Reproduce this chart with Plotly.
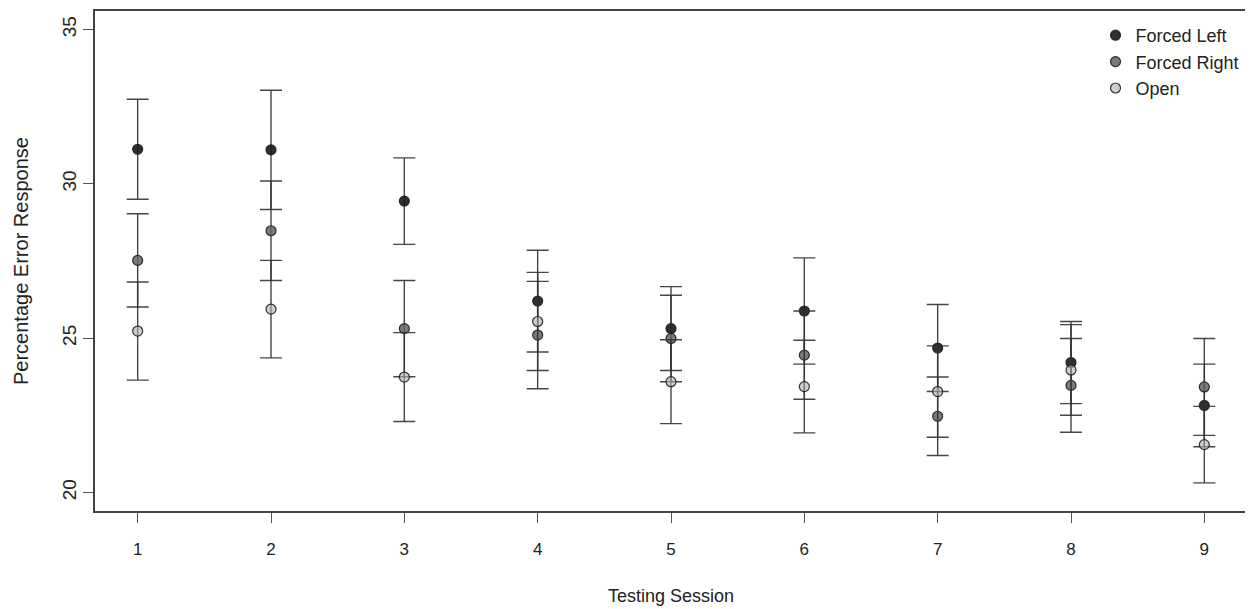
import plotly.graph_objects as go

sessions = [1, 2, 3, 4, 5, 6, 7, 8, 9]
series_names = ["Forced Left", "Forced Right", "Open"]

forced_left_mean = [31.12, 31.10, 29.44, 26.20, 25.31, 25.88, 24.68, 24.21, 22.82]
forced_left_err = [1.62, 1.93, 1.40, 1.65, 1.36, 1.72, 1.41, 1.33, 1.34]

forced_right_mean = [27.52, 28.48, 25.31, 25.10, 24.99, 24.45, 22.47, 23.47, 23.42]
forced_right_err = [1.51, 1.61, 1.56, 1.74, 1.40, 1.43, 1.27, 1.52, 1.57]

open_mean = [25.23, 25.94, 23.74, 25.54, 23.59, 23.43, 23.27, 23.97, 21.55]
open_err = [1.59, 1.58, 1.44, 1.59, 1.36, 1.50, 1.48, 1.47, 1.24]

x_ticks = [1, 2, 3, 4, 5, 6, 7, 8, 9]
y_ticks = [20, 25, 30, 35]

fills = ["rgba(25,25,25,0.9)", "rgba(100,100,100,0.85)", "rgba(175,175,175,0.6)"]
means = [forced_left_mean, forced_right_mean, open_mean]
errs = [forced_left_err, forced_right_err, open_err]

FONT = "Liberation Sans, Arial, sans-serif"

fig = go.Figure()
for name, m, e, c in zip(series_names, means, errs, fills):
    fig.add_trace(go.Scatter(
        x=sessions, y=m, mode="markers", name=name,
        marker=dict(size=10, color=c, line=dict(color="rgba(30,30,30,0.9)", width=1.2)),
        error_y=dict(type="data", array=e, visible=True, color="rgba(50,50,50,0.9)",
                     thickness=1.4, width=11),
    ))

# page body has an 8px margin, so the figure is sized to fit the 1253x609 window
fig.update_layout(
    width=1245, height=601,
    margin=dict(l=87, r=6, t=3, b=98, autoexpand=False),
    plot_bgcolor="white", paper_bgcolor="white",
    font=dict(family=FONT, size=17, color="#222"),
    showlegend=True,
    legend=dict(x=0.8685, y=0.988, xanchor="left", yanchor="top",
                bgcolor="rgba(0,0,0,0)", borderwidth=0,
                font=dict(size=18, color="#222"), tracegroupgap=0, itemwidth=30),
    xaxis=dict(range=[0.68, 9.32], tickmode="array", tickvals=x_ticks,
               showgrid=False, zeroline=False, showline=True, mirror=True,
               linecolor="#444", linewidth=1.5, ticks="outside", ticklen=10,
               tickcolor="#555", tickwidth=1.2, tickfont=dict(size=17),
               ticklabelstandoff=12, automargin=False),
    yaxis=dict(range=[19.4, 35.6], tickmode="array", tickvals=y_ticks,
               showgrid=False, zeroline=False, showline=True, mirror=True,
               linecolor="#444", linewidth=1.5, ticks="outside", ticklen=10,
               tickcolor="#555", tickwidth=1.2, tickfont=dict(size=19),
               tickangle=-90, ticklabelstandoff=0, automargin=False),
    annotations=[
        dict(text="Testing Session", xref="paper", yref="paper", x=0.5, y=0,
             yshift=-85, xanchor="center", yanchor="middle", showarrow=False,
             font=dict(size=18, color="#222")),
        dict(text="Percentage Error Response", xref="paper", yref="paper", x=0, y=0.5,
             xshift=-74, xanchor="center", yanchor="middle", textangle=-90,
             showarrow=False, font=dict(size=20, color="#222")),
    ],
)

fig.write_html("out.html")
